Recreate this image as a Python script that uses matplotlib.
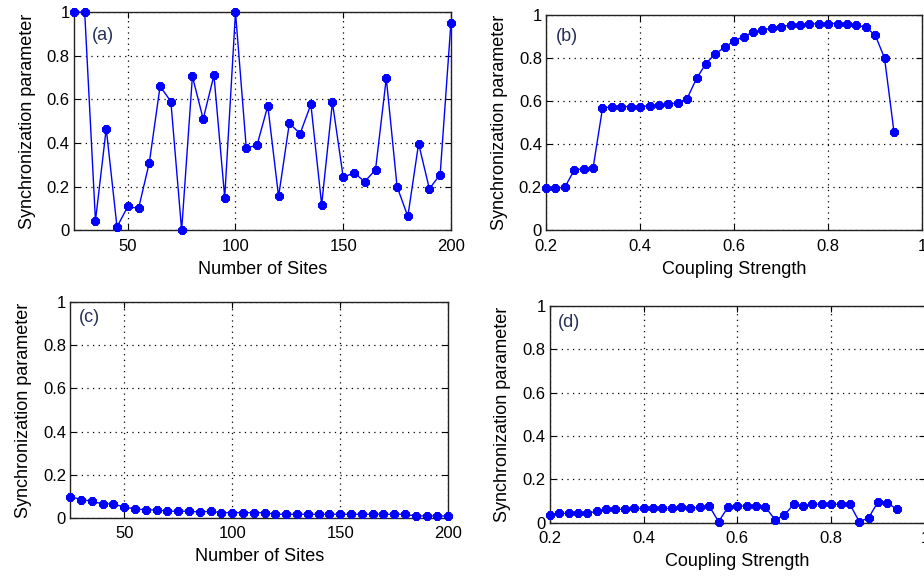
import matplotlib
matplotlib.use("Agg")
import matplotlib.pyplot as plt
import numpy as np

plt.rcParams['font.family'] = ['Liberation Sans', 'DejaVu Sans']

# Number of sites swept in panels (a) and (c)
sites = list(range(25, 201, 5))
# Coupling strengths swept in panels (b) and (d)
coupling = [round(0.2 + 0.02 * i, 2) for i in range(38)]

sync_a = [1.0, 1.0, 0.043, 0.466, 0.015, 0.109, 0.10, 0.31, 0.66, 0.59,
          0.0, 0.705, 0.51, 0.71, 0.15, 1.0, 0.377, 0.39, 0.57, 0.155,
          0.49, 0.443, 0.577, 0.117, 0.586, 0.243, 0.263, 0.223, 0.277, 0.697,
          0.20, 0.063, 0.397, 0.19, 0.255, 0.95]

sync_b = [0.194, 0.194, 0.20, 0.28, 0.285, 0.29, 0.566, 0.574, 0.574, 0.574,
          0.574, 0.578, 0.58, 0.585, 0.592, 0.612, 0.705, 0.774, 0.82, 0.85,
          0.88, 0.90, 0.92, 0.93, 0.94, 0.946, 0.953, 0.953, 0.957, 0.96,
          0.96, 0.96, 0.96, 0.953, 0.943, 0.907, 0.80, 0.458]

sync_c = [0.10, 0.086, 0.078, 0.066, 0.066, 0.051, 0.043, 0.038, 0.038, 0.032,
          0.032, 0.032, 0.028, 0.032, 0.025, 0.025, 0.025, 0.025, 0.025, 0.018,
          0.018, 0.018, 0.018, 0.018, 0.018, 0.018, 0.018, 0.018, 0.018, 0.018,
          0.018, 0.018, 0.010, 0.010, 0.010, 0.010]

sync_d = [0.038, 0.043, 0.043, 0.043, 0.043, 0.054, 0.062, 0.062, 0.062, 0.066,
          0.066, 0.066, 0.066, 0.066, 0.072, 0.066, 0.072, 0.077, 0.005, 0.072,
          0.077, 0.077, 0.077, 0.072, 0.015, 0.034, 0.085, 0.077, 0.085, 0.085,
          0.085, 0.085, 0.085, 0.005, 0.023, 0.097, 0.092, 0.062]

yticks = [0, 0.2, 0.4, 0.6, 0.8, 1]
ytick_labels = ['0', '0.2', '0.4', '0.6', '0.8', '1']
site_ticks = [50, 100, 150, 200]
coupling_ticks = [0.2, 0.4, 0.6, 0.8, 1.0]
coupling_labels = ['0.2', '0.4', '0.6', '0.8', '1']

fig = plt.figure(figsize=(9.24, 5.77), dpi=100)

panels = [
    # (rect, x, y, xlim, xticks, xticklabels, xlabel, tag, tag position)
    ([0.080, 0.601, 0.408, 0.378], sites, sync_a, (25, 200), site_ticks,
     [str(t) for t in site_ticks], 'Number of Sites', '(a)', (0.048, 0.895)),
    ([0.591, 0.601, 0.407, 0.373], coupling, sync_b, (0.2, 1.0), coupling_ticks,
     coupling_labels, 'Coupling Strength', '(b)', (0.027, 0.90)),
    ([0.076, 0.102, 0.409, 0.375], sites, sync_c, (25, 200), site_ticks,
     [str(t) for t in site_ticks], 'Number of Sites', '(c)', (0.022, 0.925)),
    ([0.595, 0.094, 0.406, 0.376], coupling, sync_d, (0.2, 1.0), coupling_ticks,
     coupling_labels, 'Coupling Strength', '(d)', (0.022, 0.925)),
]

asterisk = (8, 2, 0)

for rect, xs, ys, xlim, xt, xtl, xlabel, tag, tpos in panels:
    ax = fig.add_axes(rect)
    ax.plot(xs, ys, color='#0000ff', lw=1.0, marker=asterisk, ms=6,
            mew=2.4, mec='#0000ff', mfc='#0000ff', clip_on=False, zorder=3)
    ax.set_xlim(*xlim)
    ax.set_ylim(0, 1)
    ax.set_xticks(xt)
    ax.set_xticklabels(xtl)
    ax.set_yticks(yticks)
    ax.set_yticklabels(ytick_labels)
    ax.grid(True, color='black', linestyle=(0, (1, 3.5)), lw=0.9)
    ax.tick_params(direction='in', length=4, width=0.8, labelsize=12,
                   top=True, right=True)
    ax.tick_params(axis='x', pad=6)
    ax.tick_params(axis='y', pad=3)
    for s in ax.spines.values():
        s.set_linewidth(1.0)
        s.set_color('#222222')
    ax.set_xlabel(xlabel, fontsize=13, labelpad=5)
    ax.set_ylabel('Synchronization parameter', fontsize=13, labelpad=8)
    ax.text(tpos[0], tpos[1], tag, transform=ax.transAxes, fontsize=13,
            color='#26305a', ha='left', va='center')

fig.savefig('out.png', dpi=100)
